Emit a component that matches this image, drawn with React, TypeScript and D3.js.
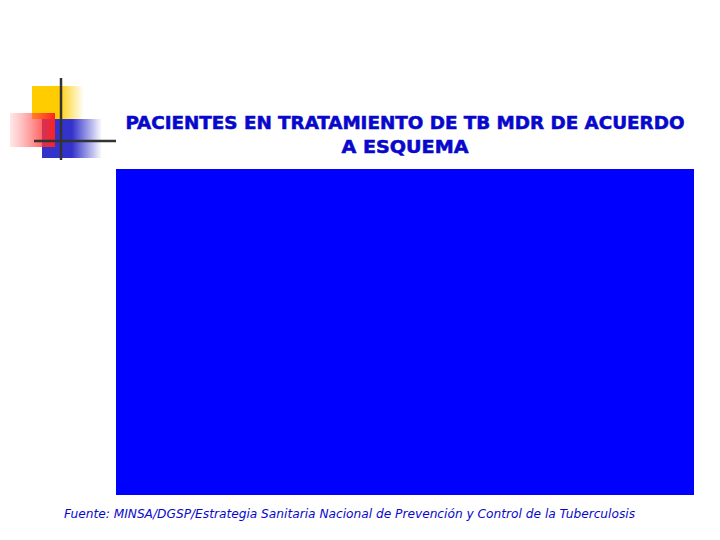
import * as d3 from 'd3';

// Slide content: the chart area is an empty blue panel
const titleLines = ['PACIENTES EN TRATAMIENTO DE TB MDR DE ACUERDO', 'A ESQUEMA'];
const sourceText =
  'Fuente: MINSA/DGSP/Estrategia Sanitaria Nacional de Prevención y Control de la Tuberculosis';
const categories: string[] = [];
const values: number[] = [];

const W = 720;
const H = 540;
const plot = { left: 116, top: 169, right: 694, bottom: 495 };

export default function App() {
  const x = d3
    .scaleBand<string>()
    .domain(categories)
    .range([plot.left, plot.right])
    .padding(0.3);
  const y = d3
    .scaleLinear()
    .domain([0, d3.max(values) || 1])
    .range([plot.bottom, plot.top]);

  return (
    <div style={{ position: 'fixed', left: 0, top: 0, width: W, height: H, background: '#fff' }}>
      <svg width={W} height={H} viewBox={`0 0 ${W} ${H}`}>
        <defs>
          <linearGradient id="gYellow" x1="0" x2="1" y1="0" y2="0">
            <stop offset="0" stopColor="#ffcc00" />
            <stop offset="0.5" stopColor="#ffcc00" />
            <stop offset="1" stopColor="#ffcc00" stopOpacity="0" />
          </linearGradient>
          <linearGradient id="gBlue" x1="0" x2="1" y1="0" y2="0">
            <stop offset="0" stopColor="#3333cc" />
            <stop offset="0.5" stopColor="#3333cc" />
            <stop offset="1" stopColor="#3333cc" stopOpacity="0" />
          </linearGradient>
          <linearGradient id="gRed" x1="0" x2="1" y1="0" y2="0">
            <stop offset="0" stopColor="#ff6666" stopOpacity="0.15" />
            <stop offset="1" stopColor="#ff2020" />
          </linearGradient>
        </defs>

        {/* corner decoration */}
        <rect x={32} y={86} width={52} height={33} fill="url(#gYellow)" />
        <rect x={42} y={119} width={60} height={39} fill="url(#gBlue)" />
        <rect x={10} y={113} width={45} height={34} fill="url(#gRed)" />
        <line x1={61} x2={61} y1={78} y2={160} stroke="#333" strokeWidth={2.5} />
        <line x1={34} x2={116} y1={141} y2={141} stroke="#333" strokeWidth={2.5} />

        {/* title */}
        {titleLines.map((t, i) => (
          <text
            key={t}
            x={405}
            y={129 + i * 24}
            textAnchor="middle"
            fill="#0808cc"
            stroke="#0808cc"
            strokeWidth={0.5}
            fontFamily="'DejaVu Sans Condensed', 'DejaVu Sans', sans-serif"
            fontWeight="bold"
            fontSize={18}
            textLength={i === 0 ? 559 : 127}
            lengthAdjust="spacingAndGlyphs"
          >
            {t}
          </text>
        ))}

        {/* chart panel */}
        <rect
          x={plot.left}
          y={plot.top}
          width={plot.right - plot.left}
          height={plot.bottom - plot.top}
          fill="#0000ff"
        />
        {categories.map((c, i) => (
          <rect
            key={c}
            x={x(c)}
            y={y(values[i])}
            width={x.bandwidth()}
            height={plot.bottom - y(values[i])}
            fill="#fff"
          />
        ))}

        {/* source */}
        <text
          x={64}
          y={518}
          fill="#0808cc"
          fontFamily="'DejaVu Sans Condensed', 'DejaVu Sans', sans-serif"
          fontStyle="italic"
          fontSize={12}
          textLength={571}
          lengthAdjust="spacingAndGlyphs"
        >
          {sourceText}
        </text>
      </svg>
    </div>
  );
}
